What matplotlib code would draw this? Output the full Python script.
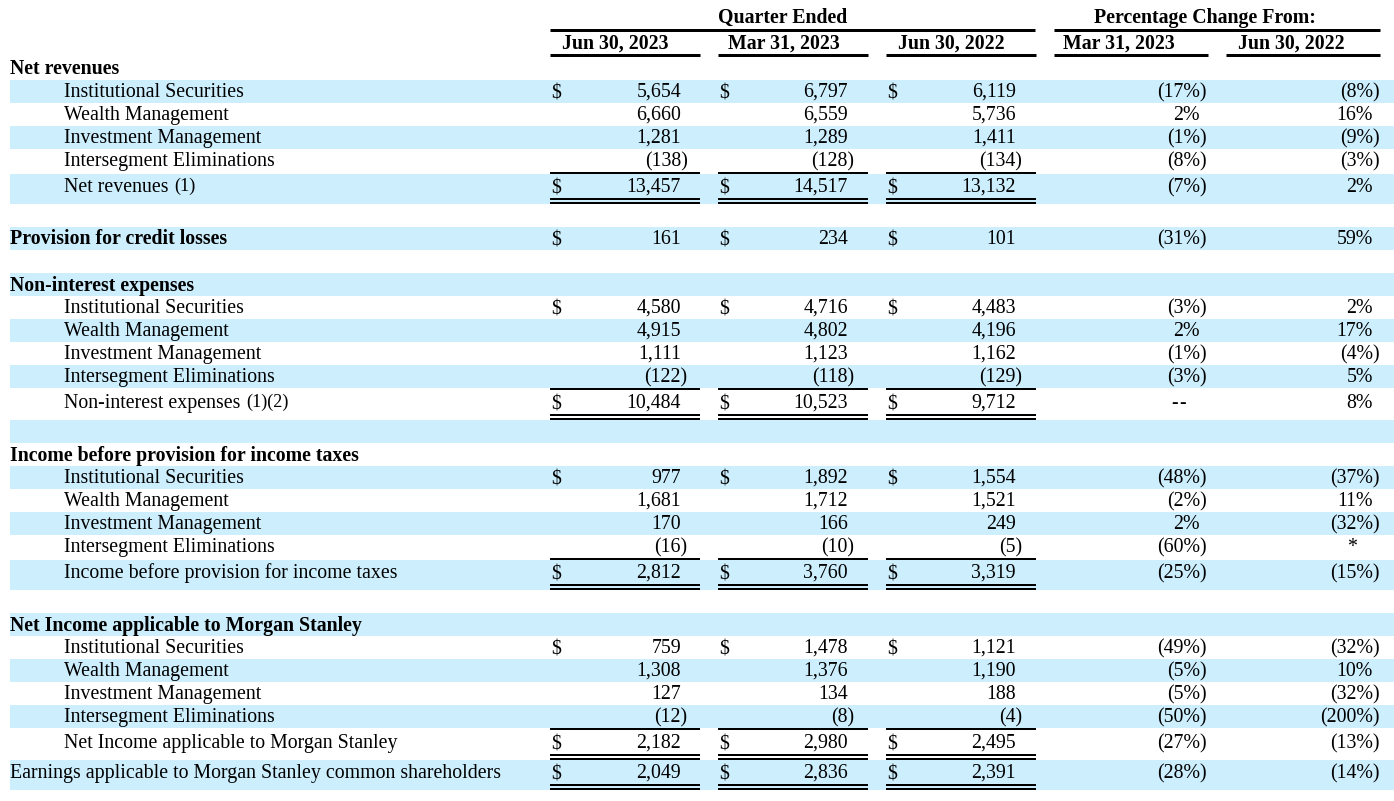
import matplotlib
matplotlib.use("Agg")
import matplotlib.pyplot as plt
from matplotlib.patches import Rectangle

# ---------------- data ----------------
quarter_header = "Quarter Ended"
pct_header = "Percentage Change From:"
quarter_cols = ["Jun 30, 2023", "Mar 31, 2023", "Jun 30, 2022"]
pct_cols = ["Mar 31, 2023", "Jun 30, 2022"]

segments = ["Institutional Securities", "Wealth Management",
            "Investment Management", "Intersegment Eliminations"]

sections = ["Net revenues", "Non-interest expenses",
            "Income before provision for income taxes",
            "Net Income applicable to Morgan Stanley"]
total_labels = ["Net revenues", "Non-interest expenses",
                "Income before provision for income taxes",
                "Net Income applicable to Morgan Stanley"]
total_notes = ["(1)", "(1)(2)", "", ""]

net_revenues = [[5654, 6797, 6119], [6660, 6559, 5736],
                [1281, 1289, 1411], [-138, -128, -134]]
net_revenues_pct = [[-17, -8], [2, 16], [-1, -9], [-8, -3]]
net_revenues_total = [13457, 14517, 13132]
net_revenues_total_pct = [-7, 2]

provision_label = "Provision for credit losses"
provision = [161, 234, 101]
provision_pct = [-31, 59]

non_interest = [[4580, 4716, 4483], [4915, 4802, 4196],
                [1111, 1123, 1162], [-122, -118, -129]]
non_interest_pct = [[-3, 2], [2, 17], [-1, -4], [-3, 5]]
non_interest_total = [10484, 10523, 9712]
non_interest_total_pct = ["--", 8]

pretax = [[977, 1892, 1554], [1681, 1712, 1521],
          [170, 166, 249], [-16, -10, -5]]
pretax_pct = [[-48, -37], [-2, 11], [2, -32], [-60, "*"]]
pretax_total = [2812, 3760, 3319]
pretax_total_pct = [-25, -15]

net_income = [[759, 1478, 1121], [1308, 1376, 1190],
              [127, 134, 188], [-12, -8, -4]]
net_income_pct = [[-49, -32], [-5, 10], [-5, -32], [-50, -200]]
net_income_total = [2182, 2980, 2495]
net_income_total_pct = [-27, -13]

earnings_label = "Earnings applicable to Morgan Stanley common shareholders"
earnings = [2049, 2836, 2391]
earnings_pct = [-28, -14]

# ---------------- layout ----------------
W, H = 1394, 801
fig = plt.figure(figsize=(W / 100, H / 100), dpi=100)
ax = fig.add_axes([0, 0, 1, 1])
ax.set_xlim(0, W)
ax.set_ylim(H, 0)
ax.axis("off")
renderer = fig.canvas.get_renderer()

FONT = "Liberation Serif"
FS = 14.3
SHADE = "#cceefd"
PAREN = 6.5

q_left = [550, 718, 886]
q_width = 150
q_right_digit = [681, 848, 1016]
p_left = [1054, 1226]
p_width = 154
p_right_digit = [1200, 1373]


def txt(x, y, s, ha="left", bold=False, size=FS):
    return ax.text(x, y, s, ha=ha, va="baseline", fontsize=size,
                   fontfamily=FONT, fontweight="bold" if bold else "normal",
                   color="black")


def hline(x0, x1, y, px):
    ax.plot([x0, x1], [y, y], color="black", lw=px * 0.72,
            solid_capstyle="butt")


def draw_num(xr, base, v, dollar_x=None):
    if dollar_x is not None:
        txt(dollar_x, base + 1.5, "$")
    if v < 0:
        txt(xr + PAREN, base, "(" + f"{abs(v):,}" + ")", ha="right")
    else:
        txt(xr, base, f"{v:,}", ha="right")


def draw_pct(xr, base, v):
    if v == "--":
        txt(xr - 25, base, "-", ha="center")
        txt(xr - 17, base, "-", ha="center")
    elif v == "*":
        txt(xr - 21, base, v, ha="center")
    elif v < 0:
        txt(xr + PAREN, base, f"({abs(v)}%)", ha="right")
    else:
        txt(xr, base, f"{v}%", ha="right")


# headers
txt(783, 23, quarter_header, ha="center", bold=True)
txt(1205, 23, pct_header, ha="center", bold=True)
hline(550, 1035, 30, 3)
hline(1054, 1380, 30, 3)
q_centers = [615, 784, 951]
p_centers = [1119, 1291]
for i, lab in enumerate(quarter_cols):
    txt(q_centers[i], 49, lab, ha="center", bold=True)
    hline(q_left[i], q_left[i] + q_width, 55, 3)
for i, lab in enumerate(pct_cols):
    txt(p_centers[i], 49, lab, ha="center", bold=True)
    hline(p_left[i], p_left[i] + p_width, 55, 3)

ROW = 23
row_idx = [0]
y = [57]


def band(h):
    if row_idx[0] % 2 == 1:
        ax.add_patch(Rectangle((10, y[0]), W - 10, h, color=SHADE, lw=0,
                               zorder=0))
    row_idx[0] += 1


def head_row(label):
    band(ROW)
    txt(10, y[0] + 17.5, label, bold=True)
    y[0] += ROW


def blank_row():
    band(ROW)
    y[0] += ROW


def item_row(label, vals, pcts, dollar):
    band(ROW)
    base = y[0] + 17
    txt(64, base, label)
    for i, v in enumerate(vals):
        draw_num(q_right_digit[i], base, v, q_left[i] + 1 if dollar else None)
    for i, p in enumerate(pcts):
        draw_pct(p_right_digit[i], base, p)
    y[0] += ROW


def total_row(label, note, vals, pcts, x_label=64, top_line=True,
              bold=False):
    if top_line:
        for i in range(3):
            hline(q_left[i], q_left[i] + q_width, y[0] + 1.3, 2)
        y[0] += 2
    band(30)
    base = y[0] + 18
    t = txt(x_label, base, label, bold=bold)
    if note:
        bb = t.get_window_extent(renderer=renderer)
        txt(bb.x1 + 6, base - 1.5, note, size=FS * 0.92)
    for i, v in enumerate(vals):
        draw_num(q_right_digit[i], base, v, q_left[i] + 1)
        hline(q_left[i], q_left[i] + q_width, y[0] + 24.8, 2)
        hline(q_left[i], q_left[i] + q_width, y[0] + 28.8, 2)
    for i, p in enumerate(pcts):
        draw_pct(p_right_digit[i], base, p)
    y[0] += 30


def section(title, rows, pcts, tlabel, tnote, tvals, tpcts):
    head_row(title)
    for k, lab in enumerate(segments):
        item_row(lab, rows[k], pcts[k], dollar=(k == 0))
    total_row(tlabel, tnote, tvals, tpcts)


section(sections[0], net_revenues, net_revenues_pct, total_labels[0],
        total_notes[0], net_revenues_total, net_revenues_total_pct)
blank_row()
# provision row
band(ROW)
base = y[0] + 17
txt(10, base, provision_label, bold=True)
for i, v in enumerate(provision):
    draw_num(q_right_digit[i], base, v, q_left[i] + 1)
for i, p in enumerate(provision_pct):
    draw_pct(p_right_digit[i], base, p)
y[0] += ROW
blank_row()
section(sections[1], non_interest, non_interest_pct, total_labels[1],
        total_notes[1], non_interest_total, non_interest_total_pct)
blank_row()
section(sections[2], pretax, pretax_pct, total_labels[2],
        total_notes[2], pretax_total, pretax_total_pct)
blank_row()
section(sections[3], net_income, net_income_pct, total_labels[3],
        total_notes[3], net_income_total, net_income_total_pct)
total_row(earnings_label, "", earnings, earnings_pct, x_label=10,
          top_line=False)

fig.savefig("out.png", dpi=100)
